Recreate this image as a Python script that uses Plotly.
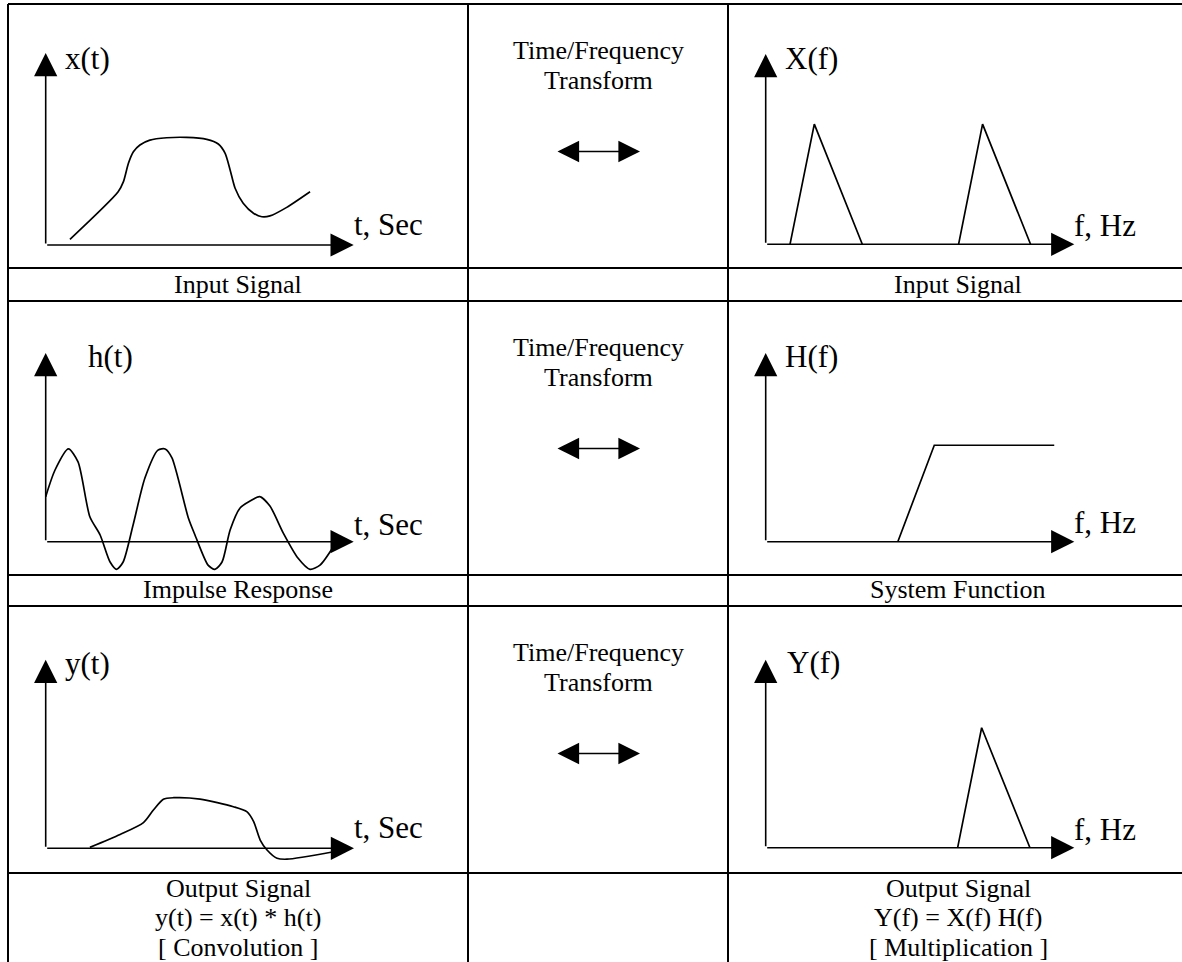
import plotly.graph_objects as go

# ---------------- data (panel units: axis arrow tips are at 10) ----------------
xt_time = [0.78, 2.33, 2.50, 2.66, 2.82, 3.03, 3.35, 3.89, 4.53, 5.18, 5.55, 5.77, 5.93, 6.09, 6.35, 6.68, 6.95, 7.21, 7.75, 8.50]
xt_amp = [0.29, 2.73, 3.25, 4.19, 4.78, 5.13, 5.38, 5.50, 5.52, 5.42, 5.18, 4.70, 3.85, 2.91, 2.14, 1.63, 1.45, 1.49, 1.93, 2.73]

ht_time = [0.00, 0.30, 0.73, 1.04, 1.42, 1.75, 2.07, 2.28, 2.49, 2.81, 3.19, 3.61, 3.84, 4.06, 4.59, 4.80, 5.22, 5.44,
           5.67, 5.93, 6.25, 6.57, 6.88, 7.21, 7.64, 8.11, 8.50, 8.82, 9.25]
ht_amp = [2.35, 3.74, 4.84, 4.16, 1.30, 0.35, -1.06, -1.44, -1.06, 0.87, 3.32, 4.78, 4.84, 4.37, 1.22, 0.35, -1.22, -1.44,
          -1.06, 0.61, 1.76, 2.12, 2.35, 1.86, 0.45, -0.85, -1.44, -1.22, -0.26]

yt_time = [1.42, 2.39, 3.14, 3.46, 3.78, 4.10, 4.96, 6.03, 6.46, 6.68, 6.89, 7.11, 7.43, 7.75, 9.25]
yt_amp = [0.05, 0.72, 1.34, 2.00, 2.56, 2.64, 2.57, 2.17, 1.91, 1.39, 0.43, -0.09, -0.52, -0.57, -0.18]

Xf_freq = [0.78, 1.56, 3.10, None, 6.19, 6.96, 8.50]
Xf_mag = [0.00, 6.22, 0.00, None, 0.00, 6.22, 0.00]

Hf_freq = [4.24, 5.41, 9.26]
Hf_mag = [0.00, 5.03, 5.03]

Yf_freq = [6.16, 6.93, 8.48]
Yf_mag = [0.00, 6.28, 0.00]

ylabels = ["x(t)", "h(t)", "y(t)", "X(f)", "H(f)", "Y(f)"]
xlabels = ["t, Sec", "t, Sec", "t, Sec", "f, Hz", "f, Hz", "f, Hz"]
captions_left = [["Input Signal"], ["Impulse Response"], ["Output Signal", "y(t) = x(t) * h(t)", "[ Convolution ]"]]
captions_right = [["Input Signal"], ["System Function"], ["Output Signal", "Y(f) = X(f) H(f)", "[ Multiplication ]"]]
middle_text = ["Time/Frequency", "Transform"]

# ---------------- layout geometry (pixels) ----------------
W, H = 1182, 962
col_x = [8, 468, 728]
row_y = [4, 268, 301, 575, 606, 873]
row_tops = [4, 301, 606]
cells_x = [(9, 467), (729, 1182)]
cells_y = [(5, 267), (302, 574), (607, 872)]

# panel frames: origin (ox, oy) and arrow tips (tx, ty)
frames = [
    (45.7, 245.0, 356.7, 50.0),
    (45.7, 541.7, 356.7, 350.0),
    (45.7, 848.3, 357.0, 656.7),
    (765.7, 244.3, 1077.3, 51.0),
    (765.7, 541.7, 1077.3, 350.0),
    (765.7, 847.7, 1077.3, 656.7),
]
label_pos = [(63, 58.5), (86, 356), (63, 663), (783, 58), (783, 356), (785, 662)]
xlabel_base = [235, 535, 838, 236, 533, 840]

series = [(xt_time, xt_amp, "spline"), (ht_time, ht_amp, "spline"), (yt_time, yt_amp, "spline"),
          (Xf_freq, Xf_mag, "linear"), (Hf_freq, Hf_mag, "linear"), (Yf_freq, Yf_mag, "linear")]

FONT = "Liberation Serif"
LW = 1.7

fig = go.Figure()
# base pixel axes
fig.add_trace(go.Scatter(x=[0], y=[0], mode="markers", marker=dict(opacity=0), hoverinfo="skip",
                         showlegend=False, xaxis="x", yaxis="y"))

layout = dict(
    width=W, height=H, margin=dict(l=0, r=0, t=0, b=0),
    paper_bgcolor="white", plot_bgcolor="rgba(0,0,0,0)", showlegend=False,
    xaxis=dict(domain=[0, 1], range=[0, W], visible=False, fixedrange=True),
    yaxis=dict(domain=[0, 1], range=[H, 0], visible=False, fixedrange=True),
)

annotations = []
shapes = []

for i, (ox, oy, tx, ty) in enumerate(frames):
    k = i + 2
    cx0, cx1 = cells_x[i // 3]
    cy0, cy1 = cells_y[i % 3]
    sx = (tx - ox) / 10.0
    sy = (oy - ty) / 10.0
    layout[f"xaxis{k}"] = dict(domain=[cx0 / W, cx1 / W], range=[(cx0 - ox) / sx, (cx1 - ox) / sx],
                               visible=False, fixedrange=True, anchor=f"y{k}")
    layout[f"yaxis{k}"] = dict(domain=[1 - cy1 / H, 1 - cy0 / H], range=[(oy - cy1) / sy, (oy - cy0) / sy],
                               visible=False, fixedrange=True, anchor=f"x{k}")
    xs, ys, shape = series[i]
    line = dict(color="black", width=LW, shape=shape)
    if shape == "spline":
        line["smoothing"] = 0.7
    fig.add_trace(go.Scatter(x=xs, y=ys, mode="lines", line=line, hoverinfo="skip",
                             xaxis=f"x{k}", yaxis=f"y{k}", showlegend=False, connectgaps=False))
    # axis arrows
    for (px, py) in [(10, 0), (0, 10)]:
        annotations.append(dict(x=px, y=py, ax=0, ay=0, xref=f"x{k}", yref=f"y{k}",
                                axref=f"x{k}", ayref=f"y{k}", text="", showarrow=True,
                                arrowhead=2, arrowsize=2.9, arrowwidth=1.6, arrowcolor="black",
                                standoff=3))
    # labels
    lx, lyb = label_pos[i]
    annotations.append(dict(x=lx, y=lyb, xref="x", yref="y", text=ylabels[i], showarrow=False,
                            xanchor="left", yanchor="middle", font=dict(family=FONT, size=31, color="black")))
    annotations.append(dict(x=tx - 5, y=xlabel_base[i] - 0.34 * 31, xref="x", yref="y", text=xlabels[i],
                            showarrow=False, xanchor="left", yanchor="middle",
                            font=dict(family=FONT, size=31, color="black")))

# captions
cap_base = [293.3, 598.3, 897.0]
for r in range(3):
    for col_center, caps in [((col_x[0] + col_x[1]) / 2, captions_left[r]), (958, captions_right[r])]:
        for j, txt in enumerate(caps):
            annotations.append(dict(x=col_center, y=cap_base[r] + 29.5 * j - 0.34 * 26, xref="x", yref="y",
                                    text=txt, showarrow=False, xanchor="center", yanchor="middle",
                                    font=dict(family=FONT, size=26, color="black")))

# middle column: transform text + double arrows
mid = (col_x[1] + col_x[2]) / 2
for r in range(3):
    top = row_tops[r]
    for j, txt in enumerate(middle_text):
        annotations.append(dict(x=mid, y=top + 55.5 + 30 * j - 0.34 * 26, xref="x", yref="y", text=txt,
                                showarrow=False, xanchor="center", yanchor="middle",
                                font=dict(family=FONT, size=26, color="black")))
    ay_ = top + 147.5
    annotations.append(dict(x=mid + 45, y=ay_, ax=mid - 45, ay=ay_, xref="x", yref="y", axref="x", ayref="y",
                            text="", showarrow=True, arrowhead=2, arrowside="end+start", arrowsize=2.7,
                            startarrowhead=2, startarrowsize=2.7,
                            arrowwidth=1.6, arrowcolor="black", standoff=3, startstandoff=3))

# table grid
for xv in col_x:
    shapes.append(dict(type="line", xref="x", yref="y", x0=xv, x1=xv, y0=row_y[0], y1=H + 5,
                       line=dict(color="black", width=2)))
for yv in row_y:
    shapes.append(dict(type="line", xref="x", yref="y", x0=col_x[0], x1=W + 5, y0=yv, y1=yv,
                       line=dict(color="black", width=2)))

layout["annotations"] = annotations
layout["shapes"] = shapes
fig.update_layout(**layout)

fig.write_html("out.html", config={"displayModeBar": False, "staticPlot": True},
               post_script="document.body.style.margin='0';document.body.style.overflow='hidden';")
